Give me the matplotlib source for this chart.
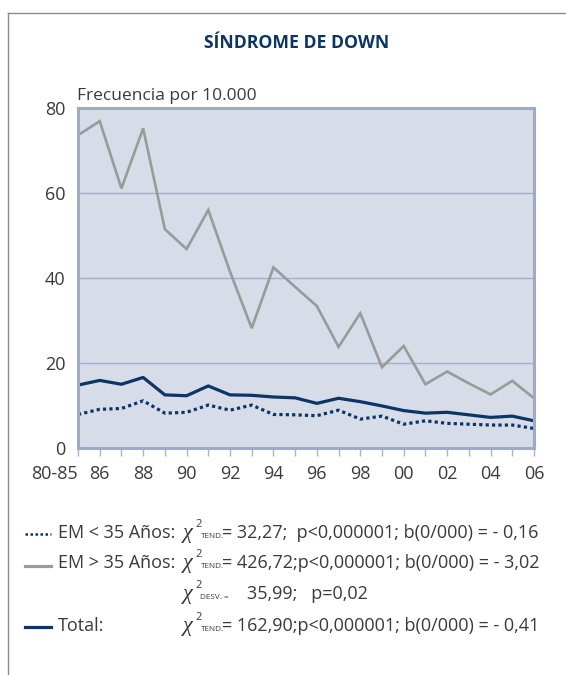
import matplotlib
matplotlib.use('Agg')
import matplotlib.pyplot as plt
from matplotlib.lines import Line2D

plt.rcParams['font.family'] = ['Open Sans', 'DejaVu Sans']

# datos (frecuencia por 10.000)
periodos = ['80-85', '86', '87', '88', '89', '90', '91', '92', '93', '94', '95',
            '96', '97', '98', '99', '00', '01', '02', '03', '04', '05', '06']
em_menor35 = [7.9, 9.1, 9.3, 11.1, 8.2, 8.4, 10.1, 8.9, 10.1, 7.9, 7.8,
              7.6, 8.9, 6.8, 7.5, 5.6, 6.4, 5.8, 5.6, 5.4, 5.4, 4.6]
em_mayor35 = [73.6, 76.9, 61.1, 75.2, 51.5, 46.8, 56.0, 41.5, 28.2, 42.5, 37.9,
              33.4, 23.8, 31.7, 19.0, 24.0, 15.0, 18.0, 15.2, 12.6, 15.8, 11.7]
total = [14.8, 15.9, 15.0, 16.6, 12.5, 12.3, 14.6, 12.5, 12.4, 12.0, 11.8,
         10.5, 11.7, 10.9, 9.9, 8.8, 8.2, 8.4, 7.8, 7.2, 7.5, 6.4]
yticks = [0, 20, 40, 60, 80]

W, H = 566, 675
NAVY = '#0b3566'
GRIS = '#9a9a9a'
TXT = '#3a3a3a'
BORDE = '#9eabc8'


def fx(x):
    return x / W


def fy(y):
    return 1 - y / H


fig = plt.figure(figsize=(W / 100, H / 100), dpi=100)

# marco exterior
fig.add_artist(Line2D([fx(8), fx(8)], [fy(13), 0], color='#8a8a8a', lw=1))
fig.add_artist(Line2D([fx(8), 1], [fy(13), fy(13)], color='#8a8a8a', lw=1))

fig.text(fx(297), fy(43), 'SÍNDROME DE DOWN', ha='center', va='center',
         fontsize=12.7, weight='bold', color=NAVY)

ax = fig.add_axes([fx(78), fy(448), fx(534 - 78), (448 - 108) / H])
ax.set_facecolor('#d6dce8')
x = list(range(len(periodos)))
ax.plot(x, em_mayor35, color=GRIS, lw=1.9, solid_joinstyle='miter')
ax.plot(x, total, color=NAVY, lw=2.3)
ax.plot(x, em_menor35, color=NAVY, lw=2.3, linestyle=(0, (1, 1)),
        dash_capstyle='butt')

ax.set_xlim(0, len(periodos) - 1)
ax.set_ylim(0, 80)
ax.set_yticks(yticks)
ax.set_yticklabels([str(v) for v in yticks])
etiquetas = [p if (i == 0 or i % 2 == 1) else '' for i, p in enumerate(periodos)]
ax.set_xticks(x)
ax.set_xticklabels(etiquetas)
ax.get_xticklabels()[0].set_horizontalalignment('right')
ax.grid(axis='y', color='#a2b0cd', lw=1)
ax.set_axisbelow(True)
for s in ax.spines.values():
    s.set_color(BORDE)
    s.set_linewidth(2.2)
ax.tick_params(axis='y', length=0, pad=9, labelsize=13, labelcolor=TXT)
ax.tick_params(axis='x', length=6, width=1, color='#a6b3cf', pad=6,
               labelsize=13, labelcolor=TXT)

fig.text(fx(77), fy(100), 'Frecuencia por 10.000', ha='left', va='baseline',
         fontsize=12.5, color=TXT)

# leyenda con estadísticos: (linea base, y del trazo, etiqueta, estilo, subíndice, resto, x del resto)
filas = [
    (538, 534, 'EM < 35 Años:', dict(color=NAVY, lw=1.8, linestyle=(0, (1, 1))),
     'TEND.', '= 32,27;  p<0,000001; b(0/000) = - 0,16', 222),
    (568, 566, 'EM > 35 Años:', dict(color=GRIS, lw=2.3),
     'TEND.', '= 426,72;p<0,000001; b(0/000) = - 3,02', 222),
    (599, None, '', None, 'DESV. =', '35,99;   p=0,02', 247),
    (631, 627, 'Total:', dict(color=NAVY, lw=2.3),
     'TEND.', '= 162,90;p<0,000001; b(0/000) = - 0,41', 222),
]
for base, yl, etiqueta, estilo, sub, resto, xr in filas:
    if estilo is not None:
        fig.add_artist(Line2D([fx(25), fx(51)], [fy(yl), fy(yl)], **estilo))
    if etiqueta:
        fig.text(fx(58), fy(base), etiqueta, ha='left', va='baseline',
                 fontsize=13, color=TXT)
    fig.text(fx(183), fy(base), 'χ', ha='left', va='baseline',
             fontsize=16, color=TXT, family=['Liberation Serif', 'DejaVu Serif'],
             style='italic')
    fig.text(fx(195.5), fy(base - 11), '2', ha='left', va='baseline',
             fontsize=8, color=TXT)
    fig.text(fx(200.5), fy(base), sub, ha='left', va='baseline',
             fontsize=5.9, color=TXT)
    fig.text(fx(xr), fy(base), resto, ha='left', va='baseline',
             fontsize=13, color=TXT)

fig.savefig('out.png', dpi=100)
